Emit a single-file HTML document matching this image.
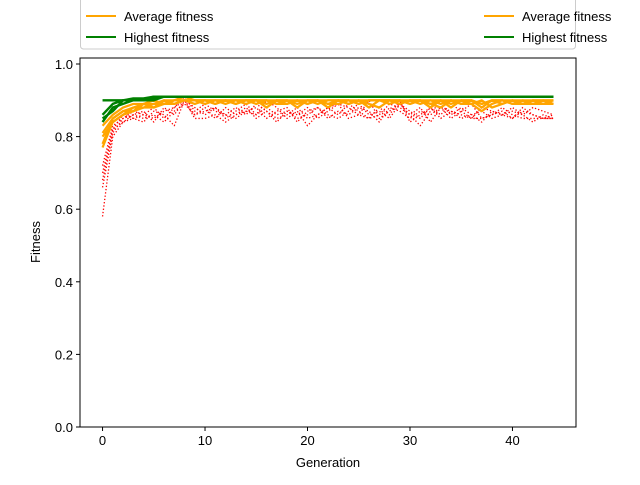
<!DOCTYPE html>
<html><head><meta charset="utf-8"><style>
body{margin:0;background:#fff}
svg text{font-family:"Liberation Sans","DejaVu Sans",sans-serif;font-size:13px;fill:#000}
</style></head><body>
<svg id="c" width="640" height="480">
<rect x="0" y="0" width="640" height="480" fill="#fff"/>
<g id="plot"></g>
<rect x="80" y="58" width="496" height="369" fill="none" stroke="#000" stroke-width="1"/>
<g id="axes"></g>
<text x="328" y="467" text-anchor="middle">Generation</text>
<text transform="translate(40,242) rotate(-90)" text-anchor="middle">Fitness</text>
<g>
<rect x="80.5" y="-10" width="495" height="59" rx="3" fill="#fff" stroke="#ccc"/>
<g><line x1="86" y1="16" x2="116" y2="16" stroke="orange" stroke-width="2"/><text x="124" y="21">Average fitness</text></g>
<g><line x1="86" y1="37" x2="116" y2="37" stroke="green" stroke-width="2"/><text x="124" y="42">Highest fitness</text></g>
<g><line x1="484" y1="16" x2="514" y2="16" stroke="orange" stroke-width="2"/><text x="522" y="21">Average fitness</text></g>
<g><line x1="484" y1="37" x2="514" y2="37" stroke="green" stroke-width="2"/><text x="522" y="42">Highest fitness</text></g>
</g>
</svg>
<script>
const xTicks=[0,10,20,30,40];
const yTicks=[0.0,0.2,0.4,0.6,0.8,1.0];
const low1=[0.58,0.80,0.84,0.85,0.86,0.85,0.87,0.88,0.90,0.85,0.85,0.86,0.84,0.86,0.88,0.85,0.87,0.85,0.86,0.88,0.85,0.86,0.88,0.89,0.85,0.86,0.85,0.88,0.86,0.90,0.84,0.86,0.88,0.85,0.87,0.86,0.85,0.85,0.86,0.88,0.86,0.85,0.85,0.85,0.85];
const low2=[0.68,0.82,0.86,0.85,0.84,0.87,0.86,0.83,0.90,0.88,0.86,0.88,0.85,0.87,0.89,0.86,0.90,0.88,0.85,0.87,0.83,0.86,0.88,0.86,0.89,0.87,0.85,0.86,0.89,0.88,0.86,0.83,0.87,0.89,0.86,0.88,0.86,0.84,0.87,0.86,0.88,0.86,0.84,0.86,0.85];
const low3=[0.72,0.83,0.85,0.87,0.86,0.88,0.85,0.88,0.91,0.87,0.89,0.87,0.86,0.88,0.86,0.89,0.87,0.84,0.87,0.86,0.88,0.85,0.87,0.89,0.88,0.86,0.90,0.85,0.87,0.89,0.87,0.85,0.88,0.86,0.89,0.87,0.85,0.88,0.87,0.86,0.87,0.86,0.88,0.87,0.86];
const low4=[0.66,0.81,0.85,0.86,0.87,0.84,0.88,0.86,0.90,0.86,0.88,0.85,0.88,0.86,0.87,0.88,0.85,0.87,0.88,0.84,0.87,0.88,0.86,0.85,0.87,0.89,0.86,0.87,0.85,0.89,0.86,0.88,0.84,0.88,0.85,0.87,0.89,0.85,0.86,0.87,0.85,0.87,0.86,0.85,0.86];
const low5=[0.70,0.82,0.84,0.86,0.85,0.86,0.84,0.87,0.89,0.86,0.87,0.88,0.86,0.85,0.87,0.86,0.88,0.86,0.87,0.85,0.86,0.88,0.85,0.87,0.86,0.88,0.87,0.84,0.88,0.87,0.85,0.87,0.86,0.88,0.87,0.85,0.86,0.87,0.85,0.86,0.85,0.88,0.86,0.85,0.85];
const avg1=[0.78,0.85,0.87,0.88,0.89,0.89,0.90,0.90,0.90,0.89,0.90,0.90,0.89,0.90,0.90,0.90,0.89,0.90,0.90,0.88,0.90,0.90,0.89,0.90,0.90,0.89,0.90,0.90,0.90,0.89,0.90,0.89,0.90,0.90,0.89,0.90,0.90,0.88,0.90,0.90,0.89,0.89,0.89,0.89,0.89];
const avg2=[0.80,0.84,0.86,0.88,0.88,0.89,0.89,0.90,0.90,0.90,0.90,0.89,0.90,0.90,0.89,0.90,0.90,0.89,0.89,0.90,0.90,0.89,0.90,0.90,0.90,0.89,0.90,0.90,0.89,0.90,0.90,0.90,0.88,0.90,0.90,0.89,0.89,0.87,0.89,0.90,0.90,0.89,0.90,0.90,0.90];
const avg3=[0.83,0.86,0.88,0.89,0.89,0.90,0.89,0.90,0.91,0.90,0.90,0.90,0.90,0.90,0.90,0.89,0.90,0.90,0.90,0.90,0.89,0.90,0.90,0.90,0.89,0.90,0.90,0.90,0.90,0.90,0.89,0.90,0.90,0.89,0.90,0.90,0.90,0.89,0.90,0.89,0.90,0.90,0.90,0.90,0.90];
const avg4=[0.77,0.84,0.86,0.87,0.88,0.88,0.89,0.89,0.90,0.90,0.89,0.90,0.90,0.89,0.90,0.90,0.88,0.90,0.89,0.90,0.89,0.90,0.88,0.90,0.89,0.90,0.89,0.88,0.90,0.90,0.89,0.90,0.89,0.90,0.88,0.90,0.89,0.90,0.88,0.89,0.90,0.89,0.90,0.89,0.90];
const avg5=[0.81,0.85,0.87,0.87,0.89,0.88,0.90,0.89,0.90,0.90,0.90,0.89,0.90,0.89,0.90,0.90,0.90,0.89,0.90,0.89,0.90,0.90,0.89,0.89,0.90,0.90,0.88,0.90,0.90,0.89,0.90,0.90,0.89,0.88,0.90,0.89,0.90,0.89,0.90,0.90,0.89,0.90,0.89,0.90,0.89];
const high1=[0.85,0.87,0.90,0.90,0.90,0.91,0.91,0.91,0.91,0.91,0.91,0.91,0.91,0.91,0.91,0.91,0.91,0.91,0.91,0.91,0.91,0.91,0.91,0.91,0.91,0.91,0.91,0.91,0.91,0.91,0.91,0.91,0.91,0.91,0.91,0.91,0.91,0.91,0.91,0.91,0.91,0.91,0.91,0.91,0.91];
const high2=[0.90,0.90,0.90,0.905,0.905,0.91,0.91,0.91,0.91,0.91,0.91,0.91,0.91,0.91,0.91,0.91,0.91,0.91,0.91,0.91,0.91,0.91,0.91,0.91,0.91,0.91,0.91,0.91,0.91,0.91,0.91,0.91,0.91,0.91,0.91,0.91,0.91,0.91,0.91,0.91,0.91,0.91,0.91,0.91,0.91];
const high3=[0.86,0.89,0.90,0.90,0.90,0.905,0.91,0.91,0.91,0.91,0.91,0.91,0.91,0.91,0.91,0.91,0.91,0.91,0.91,0.91,0.91,0.91,0.91,0.91,0.91,0.91,0.91,0.91,0.91,0.91,0.91,0.91,0.91,0.91,0.91,0.91,0.91,0.91,0.91,0.91,0.91,0.91,0.91,0.91,0.91];
const high4=[0.84,0.88,0.89,0.90,0.90,0.90,0.91,0.91,0.91,0.91,0.91,0.91,0.91,0.91,0.91,0.91,0.91,0.91,0.91,0.91,0.91,0.91,0.91,0.91,0.91,0.91,0.91,0.91,0.91,0.91,0.91,0.91,0.91,0.91,0.91,0.91,0.91,0.91,0.91,0.91,0.91,0.91,0.91,0.91,0.91];

const NS="http://www.w3.org/2000/svg";
const X0=80,X1=576,Y0=427,Y1=58;
const xMin=-2.2,xMax=46.2,yMin=0,yMax=1.0165;
function sx(v){return X0+(v-xMin)/(xMax-xMin)*(X1-X0);}
function sy(v){return Y0-(v-yMin)/(yMax-yMin)*(Y0-Y1);}
const plot=document.getElementById('plot'),axes=document.getElementById('axes');
function line(arr,color,w,dash,name){
  const p=document.createElementNS(NS,'polyline');
  p.setAttribute('points',arr.map((v,i)=>sx(i)+','+sy(v)).join(' '));
  p.setAttribute('fill','none');p.setAttribute('stroke',color);p.setAttribute('stroke-width',w);
  if(dash)p.setAttribute('stroke-dasharray',dash);
  p.setAttribute('stroke-linejoin','round');
  
  
  plot.appendChild(p);
}
[low1,low2,low3,low4,low5].forEach(a=>line(a,'red',1.3,'1.3,2','lowest-fitness-line'));
[avg1,avg2,avg3,avg4,avg5].forEach(a=>line(a,'orange',2.2,null,'average-fitness-line'));
[high1,high2,high3,high4].forEach(a=>line(a,'green',2.4,null,'highest-fitness-line'));
xTicks.forEach(t=>{
  const x=sx(t);
  const l=document.createElementNS(NS,'line');
  l.setAttribute('x1',x);l.setAttribute('x2',x);l.setAttribute('y1',Y0);l.setAttribute('y2',Y0+4);l.setAttribute('stroke','#000');
  
  
  axes.appendChild(l);
  const tx=document.createElementNS(NS,'text');
  tx.setAttribute('x',x);tx.setAttribute('y',Y0+18);tx.setAttribute('text-anchor','middle');tx.textContent=t;
  
  
  axes.appendChild(tx);
});
yTicks.forEach(t=>{
  const y=sy(t);
  const l=document.createElementNS(NS,'line');
  l.setAttribute('x1',X0-4);l.setAttribute('x2',X0);l.setAttribute('y1',y);l.setAttribute('y2',y);l.setAttribute('stroke','#000');
  
  
  axes.appendChild(l);
  const tx=document.createElementNS(NS,'text');
  tx.setAttribute('x',X0-7);tx.setAttribute('y',y+5);tx.setAttribute('text-anchor','end');tx.textContent=t.toFixed(1);
  
  
  axes.appendChild(tx);
});
</script>
</body></html>
